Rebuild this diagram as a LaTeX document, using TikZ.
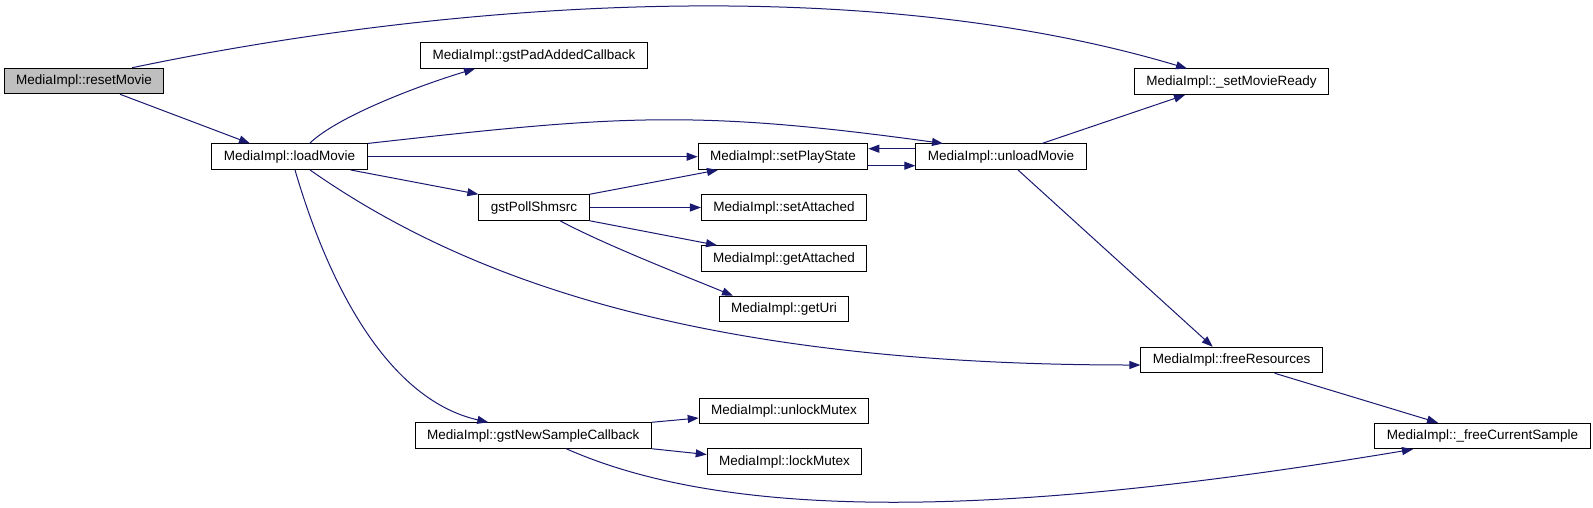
\documentclass[tikz,border=0pt]{standalone}
\usepackage{fontspec}
\setmainfont{Liberation Sans}
\usetikzlibrary{arrows.meta}
\definecolor{edge}{HTML}{191970}
\definecolor{rootfill}{HTML}{BFBFBF}

\begin{document}
\begin{tikzpicture}[x=1pt,y=-1pt,
  fn/.style={draw=black,line width=1pt,fill=white,minimum height=25.5pt,inner xsep=12pt,inner ysep=0pt,
    text height=10pt,text depth=3pt,font=\fontsize{13.5}{16}\selectfont},
  root/.style={fn,fill=rootfill},
  call/.style={draw=edge,line width=1pt,-{Triangle[length=11pt,width=8pt]}}]
  \useasboundingbox (0,0) rectangle (1593,507);
  % functions
  \node[root] (reset) at (84,81) {MediaImpl::resetMovie};
  \node[fn] (load) at (289.5,156.7) {MediaImpl::loadMovie};
  \node[fn] (padadd) at (534,55.5) {MediaImpl::gstPadAddedCallback};
  \node[fn] (ready) at (1231.5,81.7) {MediaImpl::\_setMovieReady};
  \node[fn] (play) at (783,156.7) {MediaImpl::setPlayState};
  \node[fn] (unload) at (1001,156.7) {MediaImpl::unloadMovie};
  \node[fn] (poll) at (534,207.5) {gstPollShmsrc};
  \node[fn] (setatt) at (784,207.5) {MediaImpl::setAttached};
  \node[fn] (getatt) at (784,258.5) {MediaImpl::getAttached};
  \node[fn] (uri) at (784,309) {MediaImpl::getUri};
  \node[fn] (freeres) at (1231.7,360) {MediaImpl::freeResources};
  \node[fn] (unlock) at (784,411) {MediaImpl::unlockMutex};
  \node[fn] (newsample) at (533.3,435.5) {MediaImpl::gstNewSampleCallback};
  \node[fn] (lock) at (784.5,461.5) {MediaImpl::lockMutex};
  \node[fn] (freecur) at (1482.5,436) {MediaImpl::\_freeCurrentSample};
  % calls
  \draw[call] ([xshift=36pt]reset.south) -- ([xshift=-39.5pt]load.north);
  \draw[call] ([xshift=48pt]reset.north) .. controls (454,0.4) and (865,-27.6) .. ([xshift=-44.5pt]ready.north);
  \draw[call] ([xshift=20pt]load.north) .. controls (340,114) and (430,82) .. ([xshift=-59pt]padadd.south);
  \draw[call] (load.north east) .. controls (617,115.5) and (693,109) .. ([xshift=-58pt]unload.north);
  \draw[call] (load.east) -- (play.west);
  \draw[call] ([xshift=61pt]load.south) -- (poll.north west);
  \draw[call] ([xshift=20.5pt]load.south) .. controls (460,275) and (691,365) .. ([yshift=-5pt]freeres.west);
  \draw[call] ([xshift=5.5pt]load.south) .. controls (330,290) and (390,400) .. ([xshift=-45pt]newsample.north);
  \draw[call] (poll.north east) -- ([xshift=-65pt]play.south);
  \draw[call] (poll.east) -- (setatt.west);
  \draw[call] (poll.south east) -- ([xshift=-67pt]getatt.north);
  \draw[call] ([xshift=26pt]poll.south) .. controls (605,245) and (690,278) .. ([xshift=-51pt]uri.north);
  \draw[call] ([yshift=-9pt]play.east) -- ([yshift=-9pt]unload.west);
  \draw[call] ([yshift=8pt]unload.west) -- ([yshift=8pt]play.east);
  \draw[call] ([xshift=41pt]unload.north) -- ([xshift=-46.5pt]ready.south);
  \draw[call] ([xshift=17pt]unload.south) -- ([xshift=-19pt]freeres.north);
  \draw[call] ([xshift=43pt]freeres.south) -- ([xshift=-44.5pt]freecur.north);
  \draw[call] (newsample.north east) -- ([yshift=-7pt]unlock.west);
  \draw[call] (newsample.south east) -- ([yshift=7pt]lock.west);
  \draw[call] ([xshift=33pt]newsample.south) .. controls (727,520) and (993,519.4) .. ([xshift=-69.5pt]freecur.south);
\end{tikzpicture}
\end{document}
